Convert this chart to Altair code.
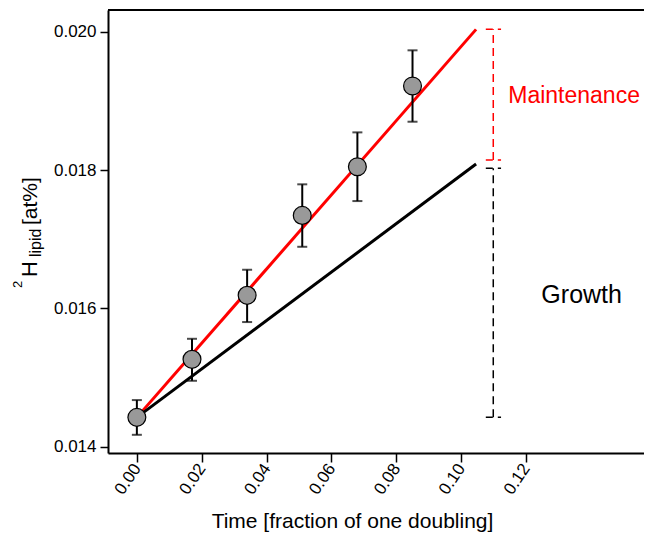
import altair as alt
import pandas as pd

# ---- data ----
time = [0.000, 0.017, 0.034, 0.051, 0.068, 0.085]
h_mean = [0.014425, 0.015264, 0.016189, 0.017345, 0.018048, 0.019215]
h_low = [0.014173, 0.014954, 0.015803, 0.016891, 0.017552, 0.018699]
h_high = [0.014675, 0.015561, 0.016559, 0.017794, 0.018545, 0.019731]

line_time = [0.0, 0.1046]
maint_line = [0.014425, 0.020034]
growth_line = [0.014425, 0.018087]

bracket_x = [0.1099]
bracket_cap = [0.1076, 0.1123]
maint_bracket = [0.018145, 0.020034]
growth_bracket = [0.014425, 0.018025]

x_ticks = [0.00, 0.02, 0.04, 0.06, 0.08, 0.10, 0.12]
y_ticks = [0.014, 0.016, 0.018, 0.020]

FONT = "Liberation Sans"

pts = pd.DataFrame({"t": time, "h": h_mean, "lo": h_low, "hi": h_high})
maint_df = pd.DataFrame({"t": line_time, "h": maint_line})
growth_df = pd.DataFrame({"t": line_time, "h": growth_line})

x_scale = alt.Scale(domain=[-0.0089, 0.15638], nice=False, zero=False)
y_scale = alt.Scale(domain=[0.01391, 0.020314], nice=False, zero=False)

x_axis = alt.Axis(
    values=x_ticks, format=".2f", labelAngle=-56, labelAlign="right",
    labelBaseline="middle", labelFontSize=17, labelFont=FONT, labelColor="black",
    labelPadding=3, tickSize=9, tickWidth=1.5, tickColor="black",
    domainColor="black", domainWidth=2, grid=False,
    title="Time [fraction of one doubling]", titleFont=FONT, titleFontSize=21,
    titleFontWeight="normal", titleColor="black", titleX=244, titleY=74,
    titleAlign="center", titleBaseline="alphabetic",
)
y_axis = alt.Axis(
    values=y_ticks, format=".3f", labelFontSize=17, labelFont=FONT,
    labelColor="black", labelPadding=4, tickSize=8, tickWidth=1.5,
    tickColor="black", domainColor="black", domainWidth=2, grid=False, title="",
)


def X(field):
    return alt.X(field, scale=x_scale, axis=x_axis)


def Y(field):
    return alt.Y(field, scale=y_scale, axis=y_axis)


maint = alt.Chart(maint_df).mark_line(color="#ff0000", strokeWidth=3).encode(
    x=X("t:Q"), y=Y("h:Q"),
)
growth = alt.Chart(growth_df).mark_line(color="black", strokeWidth=3).encode(
    x=X("t:Q"), y=Y("h:Q"),
)

err = alt.Chart(pts).mark_rule(color="black", strokeWidth=2).encode(
    x=X("t:Q"), y=Y("lo:Q"), y2="hi:Q",
)
cap_lo = alt.Chart(pts).mark_tick(color="black", orient="horizontal", size=10, thickness=2).encode(
    x=X("t:Q"), y=Y("lo:Q"),
)
cap_hi = alt.Chart(pts).mark_tick(color="black", orient="horizontal", size=10, thickness=2).encode(
    x=X("t:Q"), y=Y("hi:Q"),
)
points = alt.Chart(pts).mark_point(
    filled=True, fill="#999999", stroke="black", strokeWidth=1.2, size=320, opacity=1, shape="circle"
).encode(
    x=X("t:Q"), y=Y("h:Q"),
)


def bracket(yvals, color):
    vdf = pd.DataFrame({"x": bracket_x, "y1": [yvals[0]], "y2": [yvals[1]]})
    cdf = pd.DataFrame({"x1": [bracket_cap[0]] * 2, "x2": [bracket_cap[1]] * 2, "y": yvals})
    v = alt.Chart(vdf).mark_rule(color=color, strokeWidth=1.5, strokeDash=[8, 5]).encode(
        x=X("x:Q"), y=Y("y1:Q"), y2="y2:Q",
    )
    c = alt.Chart(cdf).mark_rule(color=color, strokeWidth=1.5, strokeDash=[7, 5]).encode(
        x=X("x1:Q"), x2="x2:Q", y=Y("y:Q"),
    )
    return v + c


maint_br = bracket(maint_bracket, "#ff0000")
growth_br = bracket(growth_bracket, "black")

ann_maint = alt.Chart(pd.DataFrame({"x": [0.11452], "y": [0.018969], "label": ["Maintenance"]})).mark_text(
    font=FONT, fontSize=23, color="#ff0000", align="left", baseline="alphabetic"
).encode(
    x=X("x:Q"), y=Y("y:Q"), text="label:N",
)
ann_growth = alt.Chart(pd.DataFrame({"x": [0.13716], "y": [0.016082], "label": ["Growth"]})).mark_text(
    font=FONT, fontSize=25, color="black", align="center", baseline="alphabetic"
).encode(
    x=X("x:Q"), y=Y("y:Q"), text="label:N",
)

# top frame line
one = alt.Data(values=[{}])
top_line = alt.Chart(one).mark_rule(color="black", strokeWidth=2).encode(
    x=alt.value(0), x2=alt.value(536), y=alt.value(0)
)


# y-axis title with superscript/subscript pieces (rotated)
def ytext(txt, size, xpix, ypix):
    return alt.Chart(one).mark_text(
        text=txt, font=FONT, fontSize=size, angle=270, align="left",
        baseline="alphabetic", color="black"
    ).encode(x=alt.value(xpix), y=alt.value(ypix))


ytitle = (
    ytext("2", 13, -86, 278)
    + ytext("H", 22, -71.3, 267)
    + ytext("lipid", 16, -67.5, 247)
    + ytext("[at%]", 21, -71.3, 215)
)

chart = alt.layer(
    maint, growth, err, cap_lo, cap_hi, points, maint_br, growth_br,
    ann_maint, ann_growth, top_line, ytitle,
).properties(
    width=536, height=443, autosize="none",
    padding={"left": 100, "top": 2, "right": 0, "bottom": 80},
).configure_view(stroke=None).configure(background="white")

chart.save("out.html", embed_options={"renderer": "svg", "actions": False})
